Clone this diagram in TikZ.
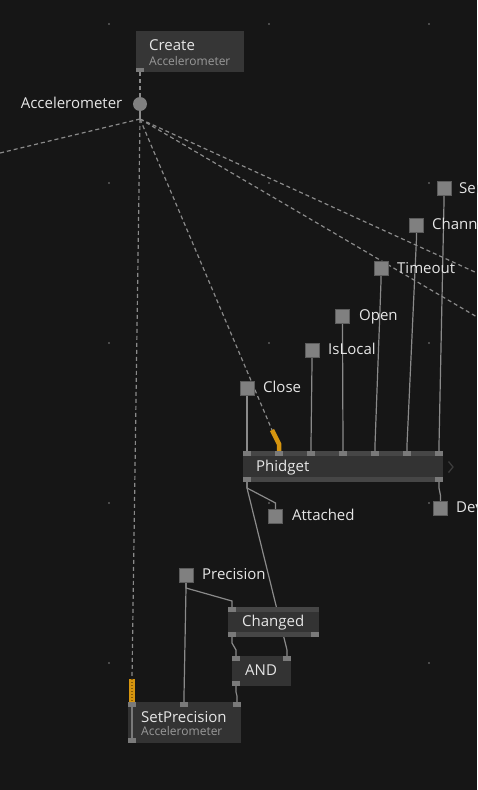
\documentclass[tikz,border=0pt]{standalone}
\usepackage{fontspec}
\setmainfont{Open Sans}
\usetikzlibrary{positioning}
\definecolor{bgcol}{HTML}{161616}
\definecolor{griddot}{HTML}{4A4A4A}
\definecolor{nodebody}{HTML}{333333}
\definecolor{createbody}{HTML}{363636}
\definecolor{nodestrip}{HTML}{464646}
\definecolor{pingray}{HTML}{7A7A7A}
\definecolor{wirecol}{HTML}{8A8A8A}
\definecolor{iofill}{HTML}{808080}
\definecolor{ioedge}{HTML}{5C5C5C}
\definecolor{labeltext}{HTML}{E6E6E6}
\definecolor{subtext}{HTML}{999999}
\definecolor{spreadcol}{HTML}{D6950F}
\definecolor{spreaddark}{HTML}{8A5E08}
\definecolor{chevcol}{HTML}{3C3C3C}
\pgfdeclarelayer{canvas}
\pgfdeclarelayer{wires}
\pgfsetlayers{canvas,wires,main}
\tikzset{wire/.style={draw=wirecol, line width=1.2pt},
  dashwire/.style={draw=wirecol, line width=1.2pt, dash pattern=on 4pt off 3pt},
  spread/.style={draw=spreadcol, line width=4.5pt},
  body/.style={fill=nodebody, inner sep=0pt, outer sep=0pt, anchor=north west},
  strip/.style={fill=nodestrip, inner sep=0pt, outer sep=0pt, anchor=north west, minimum height=5pt},
  pin/.style={fill=pingray, inner sep=0pt, outer sep=0pt, minimum width=8pt, minimum height=5pt},
  iobox/.style={fill=iofill, draw=ioedge, line width=0.8pt, inner sep=0pt, outer sep=0pt, minimum size=14pt},
  iolabel/.style={text=labeltext, font=\fontsize{15}{18}\selectfont, inner sep=0pt, anchor=base west},
  nodetitle/.style={iolabel},
  subtitle/.style={text=subtext, font=\fontsize{12}{14}\selectfont, inner sep=0pt, anchor=base west},
  chevron/.style={draw=chevcol, line width=1.3pt}}
\begin{document}
\begin{tikzpicture}[x=1pt,y=-1pt]
   \useasboundingbox (0,0) rectangle (477,790);
   \begin{pgfonlayer}{canvas}
    \fill[bgcol] (0,0) rectangle (477,790);
    \foreach \x in {109,269,429}
     \foreach \y in {24,183,343,503,663}
      \fill[griddot] (\x-1,\y-1) rectangle ++(2,2);
   \end{pgfonlayer}
   \begin{scope}
    \node[body, fill=createbody, minimum width=108pt, minimum height=41pt] (create) at (136,31) {};
    \node[pin, minimum height=4.5pt] (cr-out) at (140,70) {};
    \node[nodetitle] (cr-title) at (149,50) {Create};
    \node[subtitle] (cr-sub) at (149,65) {Accelerometer};
    \node[circle, fill=iofill, inner sep=0pt, outer sep=0pt, minimum size=14pt] (acc) at (140,104) {};
    \node[iolabel, anchor=base east] (acc-lbl) at (122.5,108) {Accelerometer};
    \coordinate (hub) at (140,119);
    \coordinate (off-left) at (0,153);
    \coordinate (off-right1) at (477,273);
    \coordinate (off-right2) at (477,317);
    \coordinate (ph-spread) at (272,430);
    \coordinate (sp-spread) at (132,679);
   \end{scope}
   \begin{scope}
    \node[body, minimum width=200pt, minimum height=31pt] (phidget) at (243,451) {};
    \node[strip, minimum width=200pt] (ph-top) at (243,451) {};
    \node[strip, minimum width=200pt] (ph-bottom) at (243,477) {};
    \foreach \i in {1,...,7}
      \node[pin] (ph-in\i) at ({247+32*(\i-1)},453.5) {};
    \node[pin] (ph-out1) at (247,479.5) {};
    \node[pin] (ph-out2) at (439,479.5) {};
    \node[nodetitle] (ph-title) at (256,471) {Phidget};
    \draw[chevron] (448.5,461.5) -- (453,467) -- (448.5,472.5);
   \end{scope}
   \begin{scope}
    \node[iobox] (close) at (247,388) {};
    \node[iolabel] (close-lbl) at (263,392) {Close};
    \node[iobox] (islocal) at (312,350) {};
    \node[iolabel] (islocal-lbl) at (328,354) {IsLocal};
    \node[iobox] (open) at (342.5,316) {};
    \node[iolabel] (open-lbl) at (359,320) {Open};
    \node[iobox] (timeout) at (381,268.5) {};
    \node[iolabel] (timeout-lbl) at (397,273) {Timeout};
    \node[iobox] (channel) at (416.5,225) {};
    \node[iolabel] (channel-lbl) at (432,229) {Channel};
    \node[iobox] (serial) at (444,188.5) {};
    \node[iolabel] (serial-lbl) at (459,193) {Serial};
    \node[iobox] (attached) at (275.5,516) {};
    \node[iolabel] (attached-lbl) at (292,520) {Attached};
    \node[iobox] (device) at (440.5,508.5) {};
    \node[iolabel] (device-lbl) at (456,512) {Device};
    \node[iobox] (precision) at (186,575) {};
    \node[iolabel] (precision-lbl) at (202,579) {Precision};
   \end{scope}
   \begin{scope}
    \node[body, minimum width=91pt, minimum height=30pt] (changed) at (228,607) {};
    \node[strip, minimum width=91pt] (ch-top) at (228,607) {};
    \node[strip, minimum width=91pt] (ch-bottom) at (228,632) {};
    \node[pin] (ch-in1) at (232,609.5) {};
    \node[pin] (ch-out1) at (232,634.5) {};
    \node[pin] (ch-out2) at (315,634.5) {};
    \node[nodetitle] (ch-title) at (242,626) {Changed};
   \end{scope}
   \begin{scope}
    \node[body, minimum width=59pt, minimum height=30pt] (and) at (232,656) {};
    \node[pin] (and-in1) at (236,658.5) {};
    \node[pin] (and-in2) at (287,658.5) {};
    \node[pin] (and-out1) at (236,683.5) {};
    \node[nodetitle] (and-title) at (245,675) {AND};
   \end{scope}
   \begin{scope}
    \node[body, minimum width=113pt, minimum height=41pt] (setprec) at (128,702) {};
    \node[pin] (sp-in1) at (132,704.5) {};
    \node[pin] (sp-in2) at (184,704.5) {};
    \node[pin] (sp-in3) at (237,704.5) {};
    \node[pin] (sp-out1) at (132,740.5) {};
    \node[nodetitle] (sp-title) at (141,722) {SetPrecision};
    \node[subtitle] (sp-sub) at (141,735) {Accelerometer};
    \draw[wire, draw=pingray] (sp-in1.south) -- (sp-out1.north);
   \end{scope}
   \begin{pgfonlayer}{wires}
    \draw[dashwire] (cr-out.south) -- (acc.north);
    \draw[wire] (acc.south) -- (hub);
    \foreach \t in {off-left,off-right1,off-right2,ph-spread,sp-spread}
      \draw[dashwire] (hub) -- (\t);
    \draw[spread] (ph-spread) -- ([yshift=7pt]ph-in2.north) -- (ph-in2.north);
    \draw[spread, line width=6pt] (sp-spread) -- (sp-in1.north);
    \draw[draw=spreaddark, line width=1.5pt, dash pattern=on 1pt off 2pt] (sp-spread) -- (sp-in1.north);
    \foreach \a/\b in {close/ph-in1,islocal/ph-in3,open/ph-in4,timeout/ph-in5,channel/ph-in6,serial/ph-in7,
                       ph-out1/attached,ph-out1/and-in2,ph-out2/device,precision/ch-in1,precision/sp-in2,
                       ch-out1/and-in1,and-out1/sp-in3}
      \draw[wire] (\a.south) -- ++(0,6) -- ([yshift=6pt]\b.north) -- (\b.north);
   \end{pgfonlayer}
  \end{tikzpicture}
\end{document}
